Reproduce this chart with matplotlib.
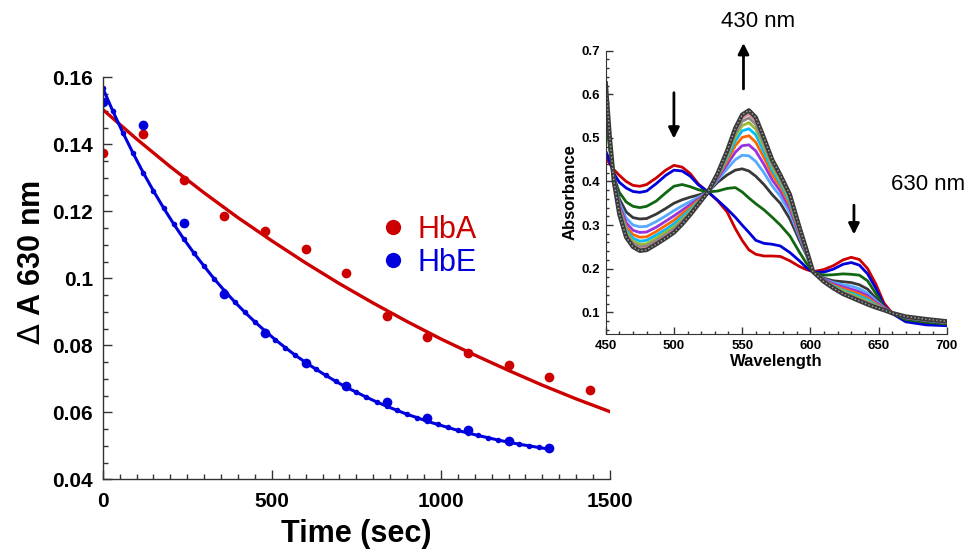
import matplotlib.pyplot as plt
from matplotlib.ticker import MultipleLocator, FuncFormatter
from matplotlib.lines import Line2D

plt.rcParams['font.family'] = ['Liberation Sans', 'DejaVu Sans']
plt.rcParams['mathtext.fontset'] = 'dejavusans'

# --- kinetics at 630 nm ---
time_points = [0, 120, 240, 360, 480, 600, 720, 840, 960, 1080, 1200, 1320, 1440]
hba_points = [0.1374, 0.1430, 0.1293, 0.1187, 0.1142, 0.1087, 0.1017,
              0.0887, 0.0824, 0.0778, 0.0741, 0.0704, 0.0667]
hbe_time = [0, 120, 240, 360, 480, 600, 720, 840, 960, 1080, 1200, 1320]
hbe_points = [0.1527, 0.1458, 0.1166, 0.0952, 0.0837, 0.0746, 0.0679,
              0.0630, 0.0582, 0.0547, 0.0515, 0.0493]

hba_fit_time = [0, 100, 200, 300, 400, 500, 600, 700, 800, 900, 1000,
                1100, 1200, 1300, 1400, 1500]
hba_fit = [0.1504, 0.1416, 0.1333, 0.1255, 0.1181, 0.1112, 0.1046, 0.0984,
           0.0926, 0.0871, 0.0819, 0.0771, 0.0725, 0.0681, 0.0640, 0.0602]
hbe_fit_time = list(range(0, 1321, 30))
hbe_fit = [0.1568, 0.1499, 0.1434, 0.1373, 0.1315, 0.1261, 0.1210, 0.1162,
           0.1117, 0.1075, 0.1036, 0.0998, 0.0963, 0.0930, 0.0899, 0.0870,
           0.0843, 0.0817, 0.0793, 0.0770, 0.0749, 0.0729, 0.0710, 0.0692,
           0.0675, 0.0660, 0.0645, 0.0631, 0.0618, 0.0606, 0.0594, 0.0584,
           0.0573, 0.0564, 0.0555, 0.0546, 0.0538, 0.0531, 0.0524, 0.0517,
           0.0511, 0.0505, 0.0500, 0.0495, 0.0490]

# --- spectra (inset), first scan (red) to last scan (dark) ---
wavelength = [450, 453, 456, 460, 465, 470, 475, 480, 487, 494, 500, 506, 512, 518,
              525, 532, 539, 545, 550, 555, 560, 566, 572, 578, 585, 592, 597, 602,
              610, 617, 624, 630, 636, 642, 648, 654, 660, 670, 685, 700]
spec_red = [0.455, 0.440, 0.427, 0.414, 0.400, 0.391, 0.389, 0.393, 0.408, 0.426,
            0.437, 0.433, 0.418, 0.394, 0.376, 0.356, 0.330, 0.292, 0.265, 0.243,
            0.233, 0.229, 0.229, 0.228, 0.218, 0.205, 0.198, 0.193, 0.198, 0.207,
            0.220, 0.226, 0.221, 0.200, 0.165, 0.121, 0.098, 0.083, 0.075, 0.071]
spec_blue = [0.470, 0.445, 0.418, 0.398, 0.385, 0.377, 0.375, 0.378, 0.395, 0.414,
             0.426, 0.424, 0.412, 0.392, 0.376, 0.357, 0.337, 0.318, 0.300, 0.283,
             0.265, 0.258, 0.256, 0.252, 0.237, 0.218, 0.203, 0.192, 0.192, 0.199,
             0.210, 0.214, 0.208, 0.188, 0.155, 0.115, 0.097, 0.078, 0.071, 0.069]
spec_green = [0.550, 0.470, 0.410, 0.375, 0.353, 0.343, 0.340, 0.343, 0.355, 0.374,
              0.389, 0.393, 0.388, 0.381, 0.376, 0.378, 0.384, 0.386, 0.376, 0.362,
              0.349, 0.335, 0.318, 0.300, 0.275, 0.238, 0.213, 0.192, 0.185, 0.186,
              0.188, 0.187, 0.185, 0.172, 0.143, 0.112, 0.098, 0.083, 0.077, 0.073]
spec_dgray = [0.580, 0.490, 0.410, 0.360, 0.330, 0.317, 0.314, 0.315, 0.325, 0.338,
              0.350, 0.358, 0.364, 0.369, 0.376, 0.398, 0.415, 0.426, 0.429, 0.424,
              0.412, 0.393, 0.370, 0.350, 0.314, 0.265, 0.232, 0.193, 0.178, 0.172,
              0.170, 0.168, 0.163, 0.153, 0.132, 0.113, 0.098, 0.086, 0.080, 0.075]
spec_lblue = [0.591, 0.493, 0.408, 0.351, 0.316, 0.300, 0.296, 0.297, 0.308, 0.321,
              0.333, 0.344, 0.354, 0.364, 0.376, 0.403, 0.429, 0.450, 0.460, 0.459,
              0.446, 0.420, 0.390, 0.366, 0.328, 0.273, 0.235, 0.193, 0.176, 0.168,
              0.163, 0.160, 0.154, 0.144, 0.127, 0.111, 0.098, 0.087, 0.081, 0.076]
spec_purple = [0.599, 0.494, 0.406, 0.345, 0.305, 0.288, 0.283, 0.284, 0.295, 0.309,
               0.321, 0.334, 0.347, 0.360, 0.376, 0.407, 0.439, 0.467, 0.482, 0.484,
               0.470, 0.439, 0.404, 0.378, 0.338, 0.278, 0.238, 0.193, 0.175, 0.165,
               0.158, 0.153, 0.147, 0.138, 0.123, 0.110, 0.098, 0.088, 0.082, 0.077]
spec_orange = [0.606, 0.496, 0.404, 0.340, 0.296, 0.278, 0.272, 0.273, 0.285, 0.299,
               0.311, 0.326, 0.341, 0.357, 0.376, 0.410, 0.447, 0.482, 0.501, 0.505,
               0.490, 0.455, 0.416, 0.388, 0.346, 0.282, 0.240, 0.193, 0.173, 0.162,
               0.154, 0.148, 0.142, 0.133, 0.120, 0.108, 0.098, 0.088, 0.082, 0.077]
spec_cyan = [0.612, 0.497, 0.403, 0.336, 0.289, 0.270, 0.263, 0.265, 0.277, 0.290,
             0.303, 0.319, 0.336, 0.354, 0.376, 0.412, 0.454, 0.493, 0.516, 0.521,
             0.507, 0.468, 0.426, 0.396, 0.353, 0.286, 0.241, 0.193, 0.172, 0.160,
             0.150, 0.144, 0.137, 0.129, 0.117, 0.107, 0.098, 0.089, 0.083, 0.078]
spec_ygreen = [0.616, 0.498, 0.402, 0.332, 0.284, 0.263, 0.256, 0.257, 0.270, 0.284,
               0.296, 0.313, 0.332, 0.352, 0.376, 0.414, 0.459, 0.503, 0.528, 0.535,
               0.520, 0.479, 0.434, 0.402, 0.359, 0.289, 0.242, 0.193, 0.172, 0.158,
               0.148, 0.141, 0.133, 0.125, 0.115, 0.107, 0.098, 0.089, 0.083, 0.078]
spec_gray = [0.620, 0.499, 0.401, 0.329, 0.279, 0.258, 0.250, 0.252, 0.264, 0.278,
             0.291, 0.309, 0.329, 0.351, 0.376, 0.416, 0.463, 0.510, 0.538, 0.546,
             0.531, 0.487, 0.440, 0.407, 0.363, 0.291, 0.243, 0.193, 0.171, 0.157,
             0.145, 0.138, 0.130, 0.122, 0.114, 0.106, 0.098, 0.090, 0.084, 0.079]
spec_pink = [0.622, 0.499, 0.401, 0.327, 0.276, 0.254, 0.245, 0.247, 0.260, 0.274,
             0.287, 0.305, 0.326, 0.349, 0.376, 0.417, 0.467, 0.516, 0.546, 0.555,
             0.539, 0.494, 0.445, 0.411, 0.367, 0.293, 0.244, 0.193, 0.171, 0.156,
             0.144, 0.136, 0.128, 0.120, 0.112, 0.106, 0.098, 0.090, 0.084, 0.079]
spec_final = [0.625, 0.500, 0.400, 0.325, 0.272, 0.250, 0.241, 0.243, 0.256, 0.270,
              0.283, 0.302, 0.324, 0.348, 0.376, 0.418, 0.470, 0.522, 0.553, 0.563,
              0.547, 0.500, 0.450, 0.415, 0.370, 0.295, 0.245, 0.193, 0.170, 0.155,
              0.142, 0.134, 0.126, 0.118, 0.111, 0.105, 0.098, 0.090, 0.084, 0.079]

spectra = [spec_red, spec_blue, spec_green, spec_dgray, spec_lblue, spec_purple,
           spec_orange, spec_cyan, spec_ygreen, spec_gray, spec_pink]
spec_colors = ['#cc0000', '#0000dd', '#116611', '#383838', '#55aaff', '#9933dd',
               '#ff6600', '#00bbff', '#99bb33', '#888888', '#dd8899']

RED = '#cc0000'
BLUE = '#0000dd'

fig = plt.figure(figsize=(9.67, 5.5), dpi=100)

# main kinetics panel
ax = fig.add_axes([0.1062, 0.1285, 0.5246, 0.7310])
ax.plot(hba_fit_time, hba_fit, '-', color=RED, lw=2.4)
ax.plot(time_points, hba_points, 'o', color=RED, ms=7, mec='none')
ax.plot(hbe_fit_time, hbe_fit, '-o', color=BLUE, lw=2.2, ms=4, mec='none')
ax.plot(hbe_time, hbe_points, 'o', color=BLUE, ms=7, mec='none')

ax.set_xlim(0, 1500)
ax.set_ylim(0.04, 0.16)
for s in ['top', 'right']:
    ax.spines[s].set_visible(False)
for s in ['left', 'bottom']:
    ax.spines[s].set_color('#333333')
    ax.spines[s].set_linewidth(1.0)
ax.xaxis.set_major_locator(MultipleLocator(500))
ax.xaxis.set_minor_locator(MultipleLocator(50))
ax.yaxis.set_major_locator(MultipleLocator(0.02))
ax.yaxis.set_minor_locator(MultipleLocator(0.005))
ax.yaxis.set_major_formatter(FuncFormatter(lambda v, p: '%g' % round(v, 3)))
ax.tick_params(which='both', direction='in', color='#333333')
ax.tick_params(which='major', length=6.5, width=1)
ax.tick_params(which='minor', length=3.6, width=1)
ax.tick_params(axis='y', which='major', pad=7)
ax.tick_params(axis='x', which='major', pad=9)
for lab in ax.get_xticklabels() + ax.get_yticklabels():
    lab.set_fontsize(15)
    lab.set_fontweight('bold')
ax.set_xlabel('Time (sec)', fontsize=22, fontweight='bold', labelpad=6)
ax.set_ylabel(r'$\Delta$ A 630 nm', fontsize=22, fontweight='bold')
ax.yaxis.set_label_coords(-0.11, 0.54)

handles = [Line2D([], [], ls='none', marker='o', color=RED, ms=11, mec='none'),
           Line2D([], [], ls='none', marker='o', color=BLUE, ms=11, mec='none')]
leg = ax.legend(handles, ['HbA', 'HbE'], loc='center', bbox_to_anchor=(0.643, 0.58),
                frameon=False, fontsize=22, handlelength=0.8, handletextpad=0.4,
                labelspacing=0.1, labelcolor=[RED, BLUE])

# inset spectra panel
ins = fig.add_axes([0.6264, 0.3927, 0.3526, 0.5151])
for spec, c in zip(spectra, spec_colors):
    ins.plot(wavelength, spec, '-', color=c, lw=2)
ins.plot(wavelength, spec_final, '-', color='#3a3a3a', lw=3.2)
ins.plot(wavelength, spec_final, ':', color='#aaaaaa', lw=1)

ins.set_xlim(450, 700)
ins.set_ylim(0.05, 0.7)
for s in ['top', 'right']:
    ins.spines[s].set_visible(False)
for s in ['left', 'bottom']:
    ins.spines[s].set_color('#333333')
ins.xaxis.set_major_locator(MultipleLocator(50))
ins.xaxis.set_minor_locator(MultipleLocator(10))
ins.yaxis.set_major_locator(MultipleLocator(0.1))
ins.yaxis.set_minor_locator(MultipleLocator(0.02))
ins.yaxis.set_major_formatter(FuncFormatter(lambda v, p: '%g' % round(v, 2)))
ins.tick_params(which='both', direction='in', color='#333333')
ins.tick_params(which='major', length=5, width=1, pad=4)
ins.tick_params(which='minor', length=2.5, width=1)
for lab in ins.get_xticklabels() + ins.get_yticklabels():
    lab.set_fontsize(9.5)
    lab.set_fontweight('bold')
ins.set_xlabel('Wavelength', fontsize=12, fontweight='bold', labelpad=2)
ins.set_ylabel('Absorbance', fontsize=12, fontweight='bold', labelpad=3)

arrow = dict(arrowstyle='-|>', lw=2, color='black', mutation_scale=16)
ins.annotate('', xy=(500, 0.492), xytext=(500, 0.610), arrowprops=arrow,
             annotation_clip=False)
ins.annotate('', xy=(551, 0.724), xytext=(551, 0.606), arrowprops=arrow,
             annotation_clip=False)
ins.annotate('', xy=(632, 0.272), xytext=(632, 0.352), arrowprops=arrow,
             annotation_clip=False)
ins.text(562, 0.766, '430 nm', fontsize=16, ha='center', va='center')
ins.text(686, 0.393, '630 nm', fontsize=16, ha='center', va='center')

plt.savefig('out.png', dpi=100)
